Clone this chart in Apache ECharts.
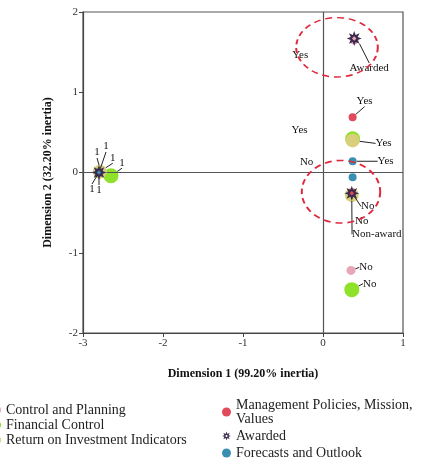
<!DOCTYPE html>
<html lang="en" style="height: 100%">
<head>
  <meta charset="utf-8">
  <style>
    body { margin: 0; background: #fff; }
  </style>
</head>
<body style="height: 100%; margin: 0">
  <div id="container" style="width: 424px; height: 474px"></div>
  <script src="https://cdn.jsdelivr.net/npm/echarts@6/dist/echarts.min.js"></script>
  <script>
    // category points per variable: Yes, No, 1
    var variables = ['Control and Planning', 'Financial Control', 'Return on Investment Indicators',
      'Management Policies, Mission, Values', 'Forecasts and Outlook', 'Awarded'];
    var catLabels = ['Yes', 'No', '1'];
    var awardLabels = ['Awarded', 'Non-award', '1'];

    var ctrlX = [0.39, 0.35, -2.80];
    var ctrlY = [1.65, -1.22, 0.00];
    var finX = [0.37, 0.36, -2.65];
    var finY = [0.42, -1.46, -0.04];
    var roiX = [0.37, 0.36, -2.79];
    var roiY = [0.40, -0.28, 0.01];
    var mgmtX = [0.37, 0.36, -2.80];
    var mgmtY = [0.69, -0.25, 0.00];
    var foreX = [0.37, 0.37, -2.80];
    var foreY = [0.14, -0.06, 0.00];
    var awardX = [0.39, 0.36, -2.80];
    var awardY = [1.67, -0.26, 0.00];

    var xTicks = [-3, -2, -1, 0, 1];
    var yTicks = [-2, -1, 0, 1, 2];

    // styling, kept apart from the data
    var colors = ['#e8a6b6', '#8fe22a', '#d8cf7a', '#e04a5a', '#3a8fb2', '#3a2a4e'];
    var sizes = [9, 15, 14, 8, 8, 15];
    var starPath = 'path://M10,0L11.91,5.38L17.07,2.93L14.62,8.09L20,10L14.62,11.91L17.07,17.07L11.91,14.62L10,20L8.09,14.62L2.93,17.07L5.38,11.91L0,10L5.38,8.09L2.93,2.93L8.09,5.38Z M10,7L7,10L10,13L13,10Z';
    // label offsets [dx, dy, showLine] per series, per point
    var labelOffsets = [
      [[-54, 15, false], [15, -3, true], [0, 18, true]],
      [[-53, -9, false], [18, -6, true], [11, -13, true]],
      [[31, 3, true], [10, 26, false], [13, -14, true]],
      [[12, -16, true], [16, 14, true], [-7, 17, true]],
      [[33, 0, true], [-46, -15, false], [7, -26, true]],
      [[15, 30, true], [25, 41, true], [-2, -20, true]]
    ];
    var serif = 'Liberation Serif';

    var xsAll = [ctrlX, finX, roiX, mgmtX, foreX, awardX];
    var ysAll = [ctrlY, finY, roiY, mgmtY, foreY, awardY];

    var dom = document.getElementById('container');
    var myChart = echarts.init(dom, null, { renderer: 'canvas' });

    var series = variables.map(function (name, s) {
      var labels = s === 5 ? awardLabels : catLabels;
      return {
        name: name,
        type: 'scatter',
        symbol: s === 5 ? starPath : 'circle',
        symbolSize: sizes[s],
        itemStyle: { color: colors[s], opacity: 1 },
        z: 3 + s,
        data: xsAll[s].map(function (x, i) {
          return {
            value: [x, ysAll[s][i]],
            name: labels[i],
            labelLine: { show: labelOffsets[s][i][2] }
          };
        }),
        label: {
          show: true,
          position: 'inside',
          formatter: '{b}',
          color: '#111',
          fontFamily: serif,
          fontSize: 11
        },
        labelLine: { show: true, lineStyle: { color: '#222', width: 1 } },
        labelLayout: function (p) {
          var o = labelOffsets[p.seriesIndex][p.dataIndex];
          return { dx: o[0], dy: o[1] };
        }
      };
    });

    // reference lines at zero
    series.push({
      type: 'scatter',
      data: [],
      silent: true,
      markLine: {
        silent: true,
        symbol: 'none',
        label: { show: false },
        lineStyle: { color: '#555', width: 1.2, type: 'solid' },
        data: [{ xAxis: 0 }, { yAxis: 0 }]
      }
    });

    var legendText = { fontFamily: serif, fontSize: 14, color: '#222' };

    var option = {
      animation: false,
      grid: {
        left: 83, right: 21, top: 12, bottom: 141,
        show: true, borderColor: '#555', borderWidth: 1.2
      },
      xAxis: {
        type: 'value', min: xTicks[0], max: xTicks[xTicks.length - 1], interval: 1,
        name: 'Dimension 1 (99.20% inertia)', nameLocation: 'middle', nameGap: 35,
        nameTextStyle: { fontFamily: serif, fontWeight: 'bold', fontSize: 12, color: '#111' },
        axisLine: { onZero: false, lineStyle: { color: '#444', width: 1.2 } },
        axisTick: { length: 4, lineStyle: { color: '#444' } },
        axisLabel: { fontFamily: serif, fontSize: 11, color: '#333', margin: 5 },
        splitLine: { show: false }
      },
      yAxis: {
        type: 'value', min: yTicks[0], max: yTicks[yTicks.length - 1], interval: 1,
        name: 'Dimension 2 (32.20% inertia)', nameLocation: 'middle', nameGap: 29,
        nameTextStyle: { fontFamily: serif, fontWeight: 'bold', fontSize: 12, color: '#111' },
        axisLine: { onZero: false, lineStyle: { color: '#444', width: 1.2 } },
        axisTick: { length: 4, lineStyle: { color: '#444' } },
        axisLabel: { fontFamily: serif, fontSize: 11, color: '#333', margin: 5 },
        splitLine: { show: false }
      },
      legend: [
        {
          data: variables.slice(0, 3),
          orient: 'vertical', left: -12, top: 398, itemGap: 1,
          itemWidth: 8, itemHeight: 8, icon: 'circle',
          textStyle: legendText
        },
        {
          data: [
            { name: variables[3], icon: 'circle' },
            { name: variables[5], icon: starPath },
            { name: variables[4], icon: 'circle' }
          ],
          orient: 'vertical', left: 217, top: 393, itemGap: 3,
          itemWidth: 9, itemHeight: 9,
          formatter: function (n) {
            return n === variables[3] ? 'Management Policies, Mission,\nValues' : n;
          },
          textStyle: legendText
        }
      ],
      series: series
    };

    myChart.setOption(option);

    // dashed ellipses highlighting the award groups (data-space centre and radii)
    var ellipses = [
      { c: [0.175, 1.56], rx: 0.51, ry: 0.37 },
      { c: [0.225, -0.24], rx: 0.49, ry: 0.39 }
    ];
    var graphics = ellipses.map(function (e) {
      var p = myChart.convertToPixel({ gridIndex: 0 }, e.c);
      var px = myChart.convertToPixel({ gridIndex: 0 }, [e.c[0] + e.rx, e.c[1] + e.ry]);
      var rx = Math.abs(px[0] - p[0]), ry = Math.abs(px[1] - p[1]);
      return {
        type: 'circle', x: p[0], y: p[1], scaleY: ry / rx, z: 20, silent: true,
        shape: { cx: 0, cy: 0, r: rx },
        style: { fill: 'none', stroke: '#e0283c', lineWidth: 2, lineDash: [7, 5], strokeNoScale: true }
      };
    });
    myChart.setOption({ graphic: graphics });
  </script>
</body>
</html>
